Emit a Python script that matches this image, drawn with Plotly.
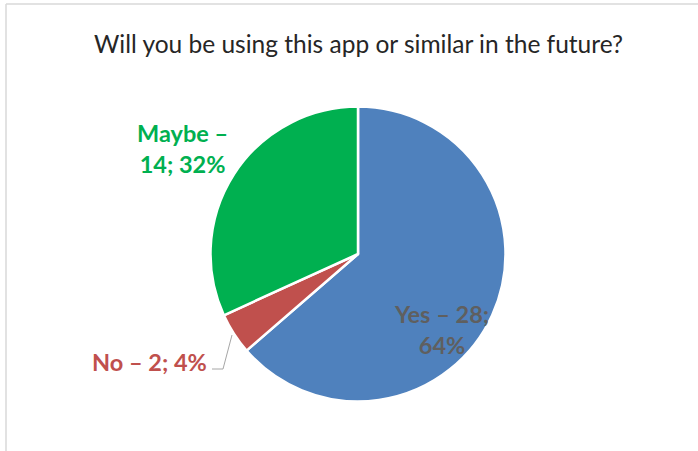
import plotly.graph_objects as go

W, H = 698, 451

categories = ["Yes", "No", "Maybe"]
counts = [28, 2, 14]
percents = [64, 4, 32]
colors = ["#4F81BD", "#C0504D", "#00B050"]
title_text = "Will you be using this app or similar in the future?"

def px(x):
    return x / W

def py(y):
    return 1 - y / H

cx, cy, r = 358, 254, 147.5

fig = go.Figure(go.Pie(
    labels=categories,
    values=counts,
    sort=False,
    direction="clockwise",
    rotation=0,
    marker=dict(colors=colors, line=dict(color="white", width=2.5)),
    textinfo="none",
    hoverinfo="label+value+percent",
    showlegend=False,
    domain=dict(x=[px(cx - r), px(cx + r)], y=[py(cy + r), py(cy - r)]),
))

label_font = dict(family="Lato, Carlito, sans-serif", size=23.5)
annotations = [
    dict(x=px(358), y=py(43), text=title_text, showarrow=False,
         font=dict(family="Lato, Carlito, sans-serif", size=24.5, color="#262626"),
         xanchor="center", yanchor="middle"),
    dict(x=px(183), y=py(149), text=f"<b>{categories[2]} –<br>{counts[2]}; {percents[2]}%</b>",
         showarrow=False, font=dict(**label_font, color=colors[2]),
         xanchor="center", yanchor="middle", align="center"),
    dict(x=px(209), y=py(362), text=f"<b>{categories[1]} – {counts[1]}; {percents[1]}%</b>",
         showarrow=False, font=dict(**label_font, color=colors[1]),
         xanchor="right", yanchor="middle"),
    dict(x=px(442), y=py(329), text=f"<b>{categories[0]} – {counts[0]};<br>{percents[0]}%</b>",
         showarrow=False, font=dict(**label_font, color="#5F5F5F"),
         xanchor="center", yanchor="middle", align="center"),
]

shapes = [
    dict(type="line", xref="paper", yref="paper", x0=px(6), x1=1.0, y0=py(4), y1=py(4),
         line=dict(color="#D9D9D9", width=1.5)),
    dict(type="line", xref="paper", yref="paper", x0=px(6), x1=px(6), y0=py(4), y1=0,
         line=dict(color="#D9D9D9", width=1.5)),
    dict(type="path", xref="paper", yref="paper",
         path=f"M {px(212)} {py(369)} L {px(223)} {py(369)} L {px(232)} {py(335)}",
         line=dict(color="#A6A6A6", width=1)),
]

fig.update_layout(
    width=W, height=H,
    margin=dict(l=0, r=0, t=0, b=0),
    paper_bgcolor="white",
    plot_bgcolor="white",
    annotations=annotations,
    shapes=shapes,
)

fig.write_html("out.html")
